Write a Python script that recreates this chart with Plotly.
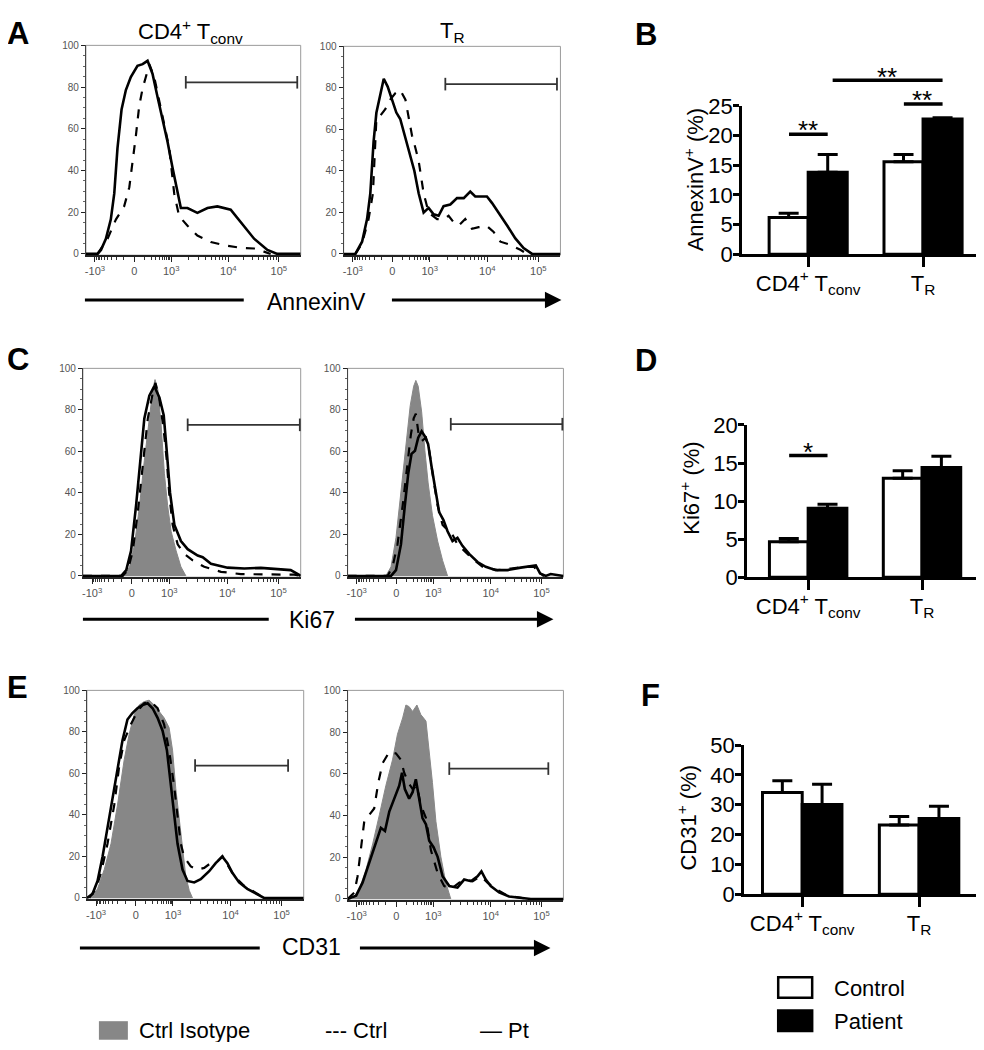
import math
import plotly.graph_objects as go

# page is 984x1050; the html body has an 8px margin on every side, so the figure is 968x1034
PAGE_W, PAGE_H = 984, 1050
OFF = 8
W, H = PAGE_W - 2 * OFF, PAGE_H - 2 * OFF

# ---------------- histogram data (x = display channel 0-1000, y = % of max) ----------------
HIST_TICKS = [42, 225, 397, 663, 898]
HIST_TICKTEXT = ["-10<sup>3</sup>", "0", "10<sup>3</sup>", "10<sup>4</sup>", "10<sup>5</sup>"]

# A - AnnexinV, CD4+ Tconv
A_L_PT_X = [0, 54, 70, 93, 116, 132, 147, 166, 186, 209, 240, 264, 287, 310, 333, 357, 380, 403, 426, 442, 473, 519, 566, 612, 674, 721, 783, 845, 891, 1000]
A_L_PT_Y = [0, 0, 1.9, 7.3, 16.6, 29, 50.7, 69.3, 78.6, 84.8, 90.2, 91, 92.6, 86.4, 75.5, 64.7, 53.8, 41.4, 29, 22, 22, 19.7, 22, 22.8, 21.2, 15, 7.3, 1.9, 0, 0]
A_L_CT_X = [54, 101, 140, 178, 202, 217, 233, 248, 264, 279, 295, 318, 341, 364, 388, 411, 434, 473, 519, 581, 643, 721, 783, 829, 860]
A_L_CT_Y = [0, 7.3, 16.6, 22.8, 32, 43, 57, 70.9, 79.4, 84.8, 91, 84.8, 74, 63, 50.7, 29, 18.1, 13.5, 8.8, 5.7, 4.2, 2.9, 2.6, 1.1, 0]
# A - AnnexinV, TR
A_R_PT_X = [0, 54, 85, 108, 123, 138, 151, 166, 185, 203, 223, 243, 261, 285, 308, 326, 346, 369, 392, 415, 438, 461, 492, 523, 554, 584, 607, 638, 661, 684, 715, 754, 792, 830, 869, 1000]
A_R_PT_Y = [0, 0, 5.9, 16.8, 29.2, 54, 68, 75.9, 84.4, 80.6, 74.3, 68.1, 65, 55.7, 47.9, 40.1, 29.2, 19.9, 22.2, 19.1, 18.4, 23, 23.8, 26.9, 26.9, 30, 27.7, 27.7, 27.7, 24.6, 19.9, 13.7, 7.5, 2.8, 0, 0]
A_R_CT_X = [54, 85, 115, 135, 151, 169, 192, 215, 238, 261, 285, 300, 315, 331, 346, 369, 392, 431, 461, 484, 508, 531, 561, 592, 623, 661, 692, 723, 769, 815, 846]
A_R_CT_Y = [0, 5.1, 16.8, 29.2, 65, 66.6, 69.7, 74.3, 77.4, 79, 74.3, 65, 57.2, 51, 44.8, 29.2, 19.9, 16.8, 16.8, 18.4, 15.2, 13.7, 16.8, 12.1, 12.9, 13.4, 10.6, 5.9, 4.4, 2, 0]

# C - Ki67, CD4+ Tconv
C_L_ISO_X = [191, 214, 237, 260, 282, 305, 321, 331, 344, 359, 374, 389, 405, 428, 450, 473]
C_L_ISO_Y = [0, 4.4, 15.2, 33.9, 55.7, 77.4, 89.9, 94.6, 89.9, 72.8, 49.5, 33.9, 21.5, 12.1, 4.4, 0]
C_L_CT_X = [0, 183, 206, 229, 252, 275, 298, 321, 333, 351, 370, 385, 397, 412, 435, 466, 504, 557, 634, 725, 847, 970, 1000]
C_L_CT_Y = [0, 0, 2.8, 12.1, 30.8, 54.1, 75.9, 88.3, 93, 85.2, 71.2, 55.7, 38.6, 24.6, 15.2, 10.6, 7.5, 4.4, 2, 0.9, 0.9, 0.6, 0]
C_L_PT_X = [0, 176, 199, 221, 244, 264, 282, 305, 328, 351, 371, 386, 400, 420, 450, 481, 527, 550, 588, 664, 741, 817, 893, 954, 993, 1000]
C_L_PT_Y = [0, 0, 2.8, 12.1, 33.9, 57.2, 75.9, 86.8, 91.4, 86, 77.4, 58.8, 40.1, 24.6, 16.8, 12.9, 9.8, 9, 5.9, 4, 3.6, 3.9, 3.4, 2.8, 0.5, 0]
# C - Ki67, TR
C_R_ISO_X = [177, 201, 224, 247, 270, 290, 306, 316, 327, 343, 358, 373, 393, 417, 440, 463]
C_R_ISO_Y = [0, 4.4, 18.4, 41.7, 65, 82.1, 91.4, 94.2, 91.4, 79, 60.3, 44.8, 29.2, 16.8, 7.5, 0]
C_R_CT_X = [0, 185, 208, 231, 255, 278, 293, 306, 316, 329, 344, 363, 378, 398, 417, 440, 463, 486, 509, 540, 579, 625, 694, 756, 818, 864, 887, 910]
C_R_CT_Y = [0, 0, 4.4, 15.2, 33.9, 55.7, 68.1, 75.9, 78.2, 68.1, 65, 66.6, 60.3, 46.3, 33.9, 24.6, 22.2, 19.9, 15.2, 12.1, 8.2, 4.4, 2.8, 3.6, 4.4, 4.4, 1.2, 0]
C_R_PT_X = [0, 201, 224, 247, 265, 281, 296, 312, 327, 343, 358, 373, 389, 404, 424, 444, 463, 486, 509, 532, 563, 602, 640, 687, 741, 802, 849, 872, 892, 918, 941, 972, 1000]
C_R_PT_Y = [0, 0, 2.8, 15.2, 33.9, 49.5, 58.8, 60.3, 66.6, 69.7, 67.3, 63.5, 52.6, 43.2, 30.8, 26.9, 21.5, 16.8, 18.4, 14.5, 10.6, 6.7, 4.4, 2.8, 2.8, 4, 4.7, 5.1, 1.2, 0, 0.9, 0.3, 0]

# E - CD31, CD4+ Tconv
E_L_ISO_X = [18, 49, 80, 111, 141, 172, 195, 218, 241, 264, 287, 310, 333, 356, 379, 395, 410, 425, 441, 456, 472, 487]
E_L_ISO_Y = [0, 4.4, 13.7, 26.1, 44.8, 66.6, 79, 88.3, 93, 94.6, 95.3, 93, 89.9, 86.8, 82.1, 71.2, 52.6, 38.6, 23, 10.6, 3.6, 0]
E_L_CT_X = [11, 41, 65, 95, 126, 149, 172, 203, 233, 264, 295, 326, 356, 379, 402, 418, 433, 448, 479, 510, 541, 571, 602, 625, 648, 679, 725, 771, 817]
E_L_CT_Y = [0, 4.4, 12.1, 26.1, 44.8, 63.5, 75.9, 83.7, 89.9, 93.8, 94.6, 91.4, 83.7, 71.2, 54.1, 38.6, 26.1, 19.9, 15.2, 13.7, 14.5, 16.8, 17.6, 20.2, 16, 10.6, 5.9, 2.8, 0]
E_L_PT_X = [0, 26, 49, 72, 95, 118, 141, 164, 187, 210, 233, 257, 280, 303, 326, 349, 369, 387, 402, 418, 441, 464, 495, 525, 564, 594, 625, 648, 671, 702, 740, 786, 817, 1000]
E_L_PT_Y = [0, 2, 8.2, 19.9, 33.9, 47.9, 60.3, 75.9, 86, 89.1, 91.4, 93, 93.8, 91.4, 86.8, 80.6, 71.2, 55.7, 41.7, 26.1, 13.7, 8.2, 7.5, 9, 12.9, 16.8, 19.9, 16.8, 12.1, 7.5, 4.4, 1.6, 0, 0]
# E - CD31, TR
E_R_ISO_X = [23, 54, 85, 116, 147, 177, 208, 231, 255, 270, 285, 301, 321, 339, 363, 378, 393, 409, 432, 455, 478]
E_R_ISO_Y = [0, 4.7, 14, 26.4, 40.3, 54.3, 66.7, 79, 86.8, 93, 92.2, 89.9, 93, 88.4, 85.3, 71.3, 55.8, 37.2, 20.2, 7.8, 0]
E_R_CT_X = [0, 31, 46, 62, 77, 100, 123, 142, 162, 193, 224, 247, 262, 281, 301, 321, 339, 363, 386, 417, 447, 478, 517, 548, 579, 617, 648, 687, 741, 818]
E_R_CT_Y = [0, 3.1, 10.9, 23.3, 37.2, 40.3, 43.4, 55.8, 65.1, 70.5, 69.8, 66.7, 60.5, 55.8, 52.7, 54.3, 45, 38.8, 23.3, 12.4, 6.2, 4.7, 7.8, 9.3, 8.5, 10.9, 7.8, 4.7, 1.6, 0.3]
E_R_PT_X = [0, 39, 69, 100, 131, 154, 173, 193, 216, 239, 252, 265, 285, 301, 316, 332, 347, 363, 378, 398, 417, 440, 471, 509, 540, 571, 602, 620, 640, 663, 702, 748, 802, 849, 1000]
E_R_PT_Y = [0, 1.6, 7.8, 17.1, 26.4, 34.1, 32.6, 41.9, 48.1, 54.3, 60.5, 52.7, 48.1, 51.2, 57.4, 48.1, 38.8, 35.7, 27.9, 24.8, 20.2, 10.9, 6.2, 5.4, 9.3, 8.5, 10.9, 13.2, 9.3, 6.2, 3.1, 1.2, 0.6, 0, 0]

# gates: y level, x start, x end per histogram panel
GATE_Y = [82.3, 81.8, 72.8, 73.1, 63.8, 62.5]
GATE_X0 = [465, 469, 481, 478, 499, 471]
GATE_X1 = [984, 984, 996, 995, 928, 930]

# ---------------- bar data ----------------
GROUPS = ["CD4<sup>+</sup> T<sub>conv</sub>", "T<sub>R</sub>"]
B_CONTROL = [6.2, 15.6]
B_CONTROL_ERR = [0.7, 1.2]
B_PATIENT = [13.8, 22.8]
B_PATIENT_ERR = [3.0, 0.2]
D_CONTROL = [4.65, 13.0]
D_CONTROL_ERR = [0.45, 1.0]
D_PATIENT = [9.05, 14.4]
D_PATIENT_ERR = [0.55, 1.5]
F_CONTROL = [34.1, 23.2]
F_CONTROL_ERR = [3.9, 2.9]
F_PATIENT = [30.1, 25.4]
F_PATIENT_ERR = [6.8, 4.1]

# significance: panel, x from, x to (group units), line level, star level, label
SIG_PANEL = ["B", "B", "B", "D"]
SIG_X0 = [-0.18, 0.82, 0.20, -0.18]
SIG_X1 = [0.17, 1.17, 1.17, 0.17]
SIG_LINE = [20.2, 25.3, 29.3, 16.0]
SIG_STAR = [21.9, 27.0, 30.8, 17.2]
SIG_TEXT = ["**", "**", "**", "*"]

FONT = "Arial, 'Liberation Sans', sans-serif"
GRAY_FILL = "#878787"


def px(x):
    return min(1.0, max(0.0, (x - OFF) / W))


def py(y):
    return 1 - (y - OFF) / H


def pyc(y):
    return min(1.0, max(0.0, py(y)))


def axid(i):
    return ("x" if i == 1 else f"x{i}"), ("y" if i == 1 else f"y{i}")


fig = go.Figure()

hist_panels = [
    (None, A_L_CT_X, A_L_CT_Y, A_L_PT_X, A_L_PT_Y),
    (None, A_R_CT_X, A_R_CT_Y, A_R_PT_X, A_R_PT_Y),
    ((C_L_ISO_X, C_L_ISO_Y), C_L_CT_X, C_L_CT_Y, C_L_PT_X, C_L_PT_Y),
    ((C_R_ISO_X, C_R_ISO_Y), C_R_CT_X, C_R_CT_Y, C_R_PT_X, C_R_PT_Y),
    ((E_L_ISO_X, E_L_ISO_Y), E_L_CT_X, E_L_CT_Y, E_L_PT_X, E_L_PT_Y),
    ((E_R_ISO_X, E_R_ISO_Y), E_R_CT_X, E_R_CT_Y, E_R_PT_X, E_R_PT_Y),
]

# page-pixel boxes (left, top, right, bottom) of histogram plot areas
hist_boxes = [
    (85, 34, 300, 249), (343, 35, 560, 249),
    (82, 365, 300, 579), (347, 365, 563, 579),
    (86, 695, 303, 909), (347, 695, 563, 910),
]

# minor ticks (biexponential-like display)
minor_x = []
for k in range(1, 10):
    minor_x.append(225 + 172 * math.asinh(k * 100 / 120) / math.asinh(1000 / 120))
    minor_x.append(225 - 183 * math.asinh(k * 100 / 120) / math.asinh(1000 / 120))
for k in range(2, 10):
    minor_x.append(397 + 266 * math.log10(k))
    minor_x.append(663 + 235 * math.log10(k))
minor_x = [m for m in minor_x if 0 < m < 1000]

layout = dict(
    width=W, height=H, margin=dict(l=0, r=0, t=0, b=0),
    paper_bgcolor="white", plot_bgcolor="white",
    font=dict(family=FONT, color="black"),
    showlegend=False, barmode="group", bargap=0.32, bargroupgap=0,
)
shapes = []
annotations = []

for i, (panel, box) in enumerate(zip(hist_panels, hist_boxes), start=1):
    iso, ctx, cty, ptx, pty = panel
    xa, ya = axid(i)
    if iso is not None:
        fig.add_trace(go.Scatter(x=iso[0], y=iso[1], mode="lines", fill="tozeroy",
                                 fillcolor=GRAY_FILL, line=dict(color=GRAY_FILL, width=1),
                                 xaxis=xa, yaxis=ya, hoverinfo="skip"))
    fig.add_trace(go.Scatter(x=ctx, y=cty, mode="lines",
                             line=dict(color="black", width=2.2, dash="dash"),
                             xaxis=xa, yaxis=ya))
    fig.add_trace(go.Scatter(x=ptx, y=pty, mode="lines",
                             line=dict(color="black", width=2.6),
                             xaxis=xa, yaxis=ya))
    g = i - 1
    fig.add_trace(go.Scatter(x=[GATE_X0[g], GATE_X1[g]], y=[GATE_Y[g], GATE_Y[g]],
                             mode="lines+markers",
                             line=dict(color="#333", width=1.8),
                             marker=dict(symbol="line-ns", size=9,
                                         line=dict(color="#333", width=1.8)),
                             xaxis=xa, yaxis=ya, cliponaxis=False))
    l, t, r, b = box
    key = "" if i == 1 else str(i)
    layout["xaxis" + key] = dict(
        domain=[px(l), px(r)], range=[0, 1000], anchor=ya,
        tickmode="array", tickvals=HIST_TICKS, ticktext=HIST_TICKTEXT,
        ticks="outside", ticklen=5, tickwidth=1.3, tickcolor="#222",
        tickfont=dict(size=11, color="#555"),
        showline=True, linecolor="#222", linewidth=1.5,
        showgrid=False, zeroline=False,
        minor=dict(tickmode="array", tickvals=minor_x, ticks="outside",
                   ticklen=3, tickwidth=1, tickcolor="#333"),
    )
    layout["yaxis" + key] = dict(
        domain=[pyc(b), pyc(t)], range=[-0.6, 100], anchor=xa,
        tickmode="array", tickvals=[0, 20, 40, 60, 80, 100],
        ticks="outside", ticklen=4, tickwidth=1.3, tickcolor="#222",
        tickfont=dict(size=10, color="#555"),
        showline=True, linecolor="#444", linewidth=1.2,
        showgrid=False, zeroline=False,
        minor=dict(dtick=5, ticks="outside", ticklen=2, tickwidth=1, tickcolor="#666"),
    )
    shapes.append(dict(type="rect", xref=f"{xa} domain", yref=f"{ya} domain",
                       x0=0, x1=1, y0=0, y1=1, line=dict(color="#9a9a9a", width=1),
                       layer="below"))

# ---------------- bar charts ----------------
# panel: axis number, values, page-pixel x extent, page-pixel y (zero, top), x range, ymax, tick step
bar_panels = {
    "B": (7, B_CONTROL, B_CONTROL_ERR, B_PATIENT, B_PATIENT_ERR, (742, 976), (248, 96), [-0.574, 1.461], 25, 5),
    "D": (8, D_CONTROL, D_CONTROL_ERR, D_PATIENT, D_PATIENT_ERR, (747, 976), (579, 423), [-0.535, 1.474], 20, 5),
    "F": (9, F_CONTROL, F_CONTROL_ERR, F_PATIENT, F_PATIENT_ERR, (744, 976), (904, 751), [-0.496, 1.487], 50, 10),
}
for key_p, (n, cv, ce, pv, pe, xb, yb, xr, ymax, step) in bar_panels.items():
    xa, ya = f"x{n}", f"y{n}"
    fig.add_trace(go.Bar(x=[0, 1], y=cv, marker=dict(color="white", line=dict(color="black", width=3)),
                         error_y=dict(type="data", array=ce, arrayminus=[0, 0], symmetric=False,
                                      thickness=3, width=10, color="black"),
                         offsetgroup="c", xaxis=xa, yaxis=ya))
    fig.add_trace(go.Bar(x=[0, 1], y=pv, marker=dict(color="black", line=dict(color="black", width=3)),
                         error_y=dict(type="data", array=pe, arrayminus=[0, 0], symmetric=False,
                                      thickness=3, width=10, color="black"),
                         offsetgroup="p", xaxis=xa, yaxis=ya))
    layout["xaxis" + str(n)] = dict(
        domain=[px(xb[0]), px(xb[1])], range=xr, anchor=ya,
        tickmode="array", tickvals=[0, 1], ticktext=GROUPS,
        ticks="outside", ticklen=10, tickwidth=3, tickcolor="black",
        tickfont=dict(size=22, color="black"), ticklabelstandoff=-3,
        showline=True, linecolor="black", linewidth=3,
        showgrid=False, zeroline=False,
    )
    layout["yaxis" + str(n)] = dict(
        domain=[pyc(yb[0]), pyc(yb[1])], range=[0, ymax], anchor=xa,
        tickmode="array", tickvals=list(range(0, ymax + 1, step)),
        ticks="outside", ticklen=6, tickwidth=3, tickcolor="black",
        tickfont=dict(size=22, color="black"), ticklabelstandoff=-4,
        showline=True, linecolor="black", linewidth=3,
        showgrid=False, zeroline=False,
    )


def bar_paper_y(panel_key, value):
    # extends the bar panel's own linear y scale above its range (annotations beyond the range)
    n = bar_panels[panel_key][0]
    ymax = bar_panels[panel_key][8]
    dom = layout["yaxis" + str(n)]["domain"]
    return dom[0] + (dom[1] - dom[0]) * value / ymax


for pk, x0, x1, yl, ys, txt in zip(SIG_PANEL, SIG_X0, SIG_X1, SIG_LINE, SIG_STAR, SIG_TEXT):
    xa = f"x{bar_panels[pk][0]}"
    annotations.append(dict(x=x1, y=bar_paper_y(pk, yl), ax=x0, ay=0, xref=xa, yref="paper",
                            axref=xa, ayref="pixel",
                            text="", showarrow=True, arrowhead=0, arrowwidth=3.5,
                            arrowcolor="black", standoff=0, startstandoff=0))
    annotations.append(dict(x=(x0 + x1) / 2, y=bar_paper_y(pk, ys), xref=xa, yref="paper",
                            text=txt, showarrow=False, yanchor="middle", yshift=-6,
                            font=dict(size=26, color="black")))

# y-axis titles of bar charts
for txt, xx, yy in [("AnnexinV<sup>+</sup> (%)", 694, 171),
                    ("Ki67<sup>+</sup> (%)", 690, 488),
                    ("CD31<sup>+</sup> (%)", 687, 825)]:
    annotations.append(dict(x=px(xx), y=py(yy), xref="paper", yref="paper", text=txt,
                            textangle=-90, showarrow=False, font=dict(size=22),
                            xanchor="center", yanchor="middle"))

# panel letters
for txt, xx, yy in [("A", 17, 22), ("B", 646, 23), ("C", 17, 356),
                    ("D", 646, 357), ("E", 17, 692), ("F", 650, 700)]:
    annotations.append(dict(x=px(xx), y=py(yy), xref="paper", yref="paper",
                            text=f"<b>{txt}</b>", showarrow=False, font=dict(size=31),
                            xanchor="center", yanchor="middle"))

# column titles
annotations.append(dict(x=px(190), y=py(20), xref="paper", yref="paper",
                        text="CD4<sup>+</sup> T<sub>conv</sub>", showarrow=False,
                        font=dict(size=22), xanchor="center", yanchor="middle"))
annotations.append(dict(x=px(452), y=py(20), xref="paper", yref="paper",
                        text="T<sub>R</sub>", showarrow=False,
                        font=dict(size=22), xanchor="center", yanchor="middle"))

# marker axis labels with line / arrow
for txt, tx, ty, l0, l1, a0, a1, ly in [("AnnexinV", 316, 297, 84, 243, 390, 561, 295),
                                        ("Ki67", 311, 623, 82, 268, 353, 553, 622),
                                        ("CD31", 311, 958, 79, 259, 358, 550, 959)]:
    annotations.append(dict(x=px(tx), y=py(ty), xref="paper", yref="paper", text=txt,
                            showarrow=False, font=dict(size=23), xanchor="center",
                            yanchor="middle"))
    shapes.append(dict(type="line", xref="paper", yref="paper", x0=px(l0), x1=px(l1),
                       y0=py(ly), y1=py(ly), line=dict(color="black", width=3)))
    annotations.append(dict(x=px(a1), y=py(ly), xref="paper", yref="paper", text="",
                            showarrow=True, ax=-(a1 - a0), ay=0, arrowhead=2, arrowsize=1.1,
                            arrowwidth=3, arrowcolor="black", standoff=0))

# bottom legend for histograms
shapes.append(dict(type="rect", xref="paper", yref="paper", x0=px(98), x1=px(127),
                   y0=py(1053), y1=py(1034), fillcolor=GRAY_FILL, line=dict(width=0)))
for txt, xx in [("Ctrl Isotype", 136), ("--- Ctrl", 322), ("— Pt", 477)]:
    annotations.append(dict(x=px(xx), y=py(1044), xref="paper", yref="paper", text=txt,
                            showarrow=False, font=dict(size=22), xanchor="left",
                            yanchor="middle"))

# bar legend
shapes.append(dict(type="rect", xref="paper", yref="paper", x0=px(778), x1=px(812),
                   y0=py(1010), y1=py(989), fillcolor="white",
                   line=dict(color="black", width=2.5)))
shapes.append(dict(type="rect", xref="paper", yref="paper", x0=px(778), x1=px(812),
                   y0=py(1044), y1=py(1023), fillcolor="black",
                   line=dict(color="black", width=2.5)))
for txt, yy in [("Control", 1000), ("Patient", 1034)]:
    annotations.append(dict(x=px(832), y=py(yy), xref="paper", yref="paper", text=txt,
                            showarrow=False, font=dict(size=22), xanchor="left",
                            yanchor="middle"))

layout["shapes"] = shapes
layout["annotations"] = annotations
fig.update_layout(**layout)
fig.write_html("out.html")
